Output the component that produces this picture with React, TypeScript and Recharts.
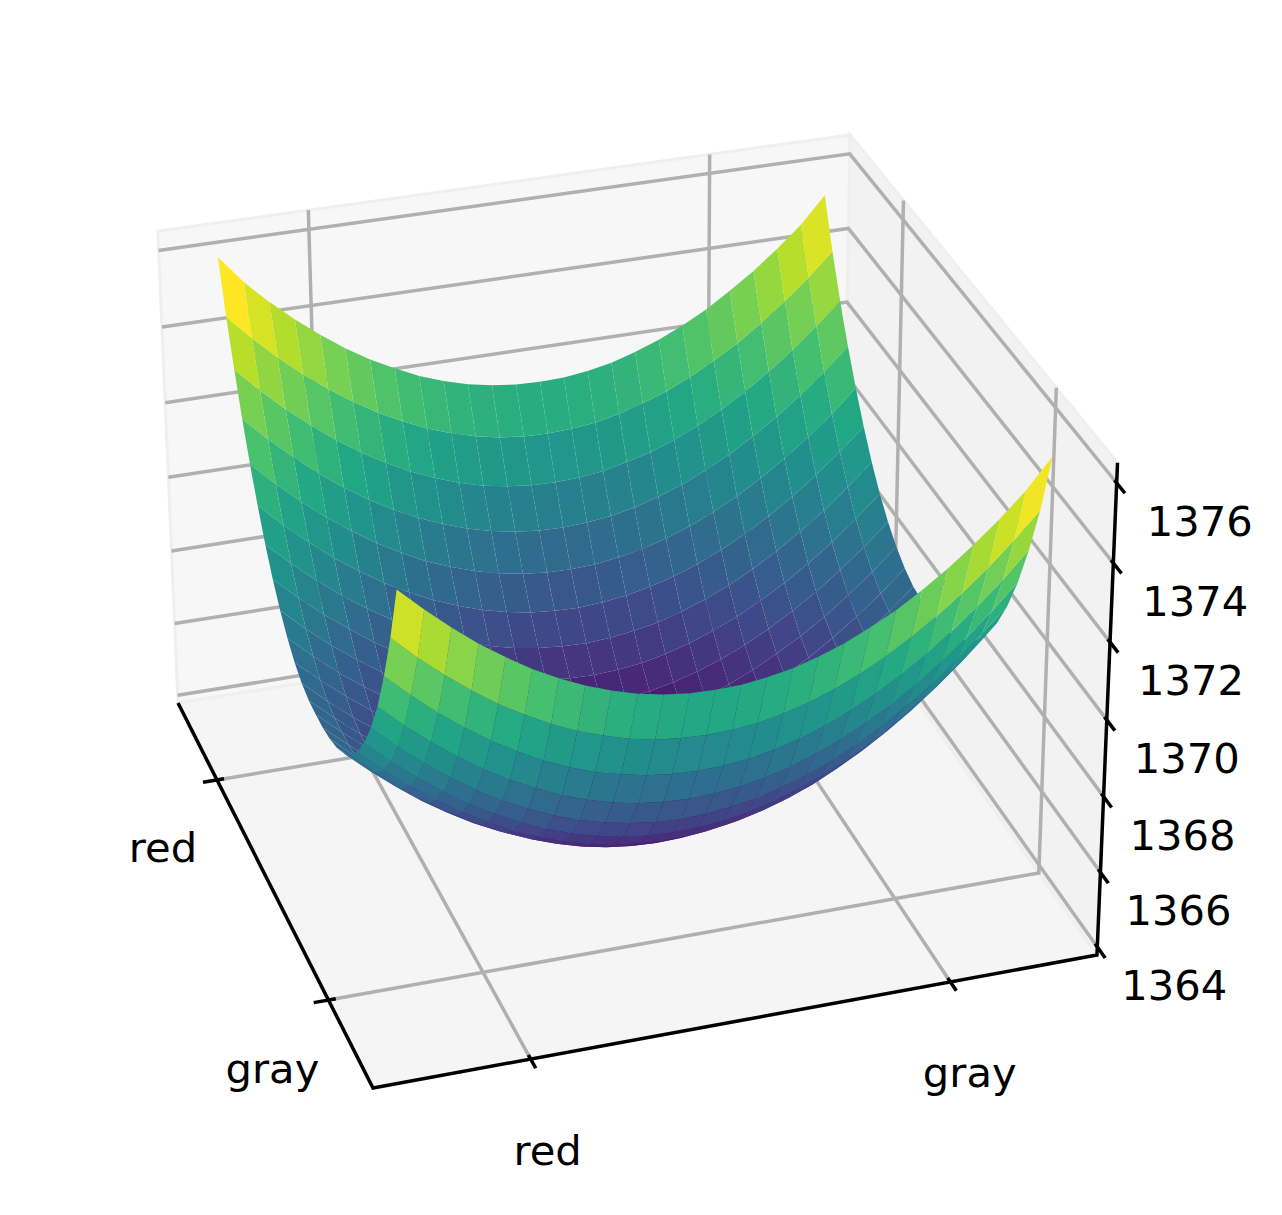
import { ScatterChart, Scatter, XAxis, YAxis } from 'recharts';

const WIDTH = 1282;
const HEIGHT = 1215;

const zTicks = [1364, 1366, 1368, 1370, 1372, 1374, 1376];
const frontTicks = ['red', 'gray'];
const sideTicks = ['gray', 'red'];
const frontTickPos = [0.2115, 0.7915];
const sideTickPos = [0.2115, 0.7836];

// surface grid, -1..1 across each floor direction
const gridSteps = [
  -1, -0.92, -0.84, -0.76, -0.68, -0.6, -0.52, -0.44, -0.36, -0.28, -0.2, -0.12, -0.04,
  0.04, 0.12, 0.2, 0.28, 0.36, 0.44, 0.52, 0.6, 0.68, 0.76, 0.84, 0.92, 1,
];

const zBase = 1364;
// height above zBase, one row per side step
const heightRows = [
  [11.07,10.47,9.92,9.41,8.97,8.56,8.22,7.93,7.69,7.50,7.37,7.29,7.27,7.29,7.37,7.49,7.68,7.91,8.21,8.54,8.94,9.39,9.89,10.44,11.05,11.80],
  [9.55,8.94,8.40,7.90,7.45,7.07,6.72,6.43,6.20,6.01,5.87,5.80,5.77,5.79,5.86,5.99,6.17,6.40,6.69,7.02,7.41,7.85,8.34,8.88,9.48,10.13],
  [8.25,7.66,7.11,6.62,6.17,5.78,5.44,5.15,4.91,4.74,4.60,4.52,4.49,4.51,4.58,4.70,4.88,5.11,5.39,5.72,6.10,6.53,7.02,7.55,8.14,8.79],
  [7.15,6.56,6.02,5.53,5.09,4.70,4.37,4.07,3.84,3.65,3.52,3.44,3.41,3.43,3.50,3.62,3.79,4.02,4.29,4.61,4.98,5.41,5.89,6.42,7.00,7.63],
  [6.26,5.66,5.13,4.64,4.20,3.81,3.48,3.19,2.95,2.77,2.64,2.55,2.52,2.54,2.61,2.72,2.89,3.11,3.37,3.70,4.07,4.50,4.96,5.49,6.06,6.68],
  [5.53,4.95,4.41,3.92,3.48,3.10,2.76,2.48,2.24,2.06,1.92,1.84,1.80,1.82,1.88,2.00,2.16,2.38,2.64,2.96,3.32,3.74,4.20,4.73,5.29,5.91],
  [4.96,4.37,3.83,3.36,2.92,2.53,2.19,1.91,1.67,1.48,1.36,1.27,1.23,1.25,1.31,1.42,1.58,1.79,2.05,2.37,2.73,3.14,3.60,4.11,4.67,5.28],
  [4.52,3.94,3.40,2.92,2.49,2.11,1.77,1.49,1.25,1.06,.92,.84,.80,.82,.88,.98,1.14,1.35,1.61,1.91,2.27,2.67,3.14,3.64,4.20,4.80],
  [4.22,3.64,3.11,2.62,2.19,1.80,1.47,1.18,.95,.76,.62,.54,.50,.50,.56,.66,.82,1.03,1.28,1.59,1.94,2.35,2.80,3.29,3.84,4.44],
  [4.02,3.44,2.91,2.42,1.99,1.61,1.27,.98,.75,.56,.41,.33,.29,.29,.35,.45,.60,.81,1.06,1.37,1.71,2.11,2.56,3.05,3.60,4.20],
  [3.91,3.32,2.80,2.31,1.88,1.49,1.16,.87,.63,.44,.30,.20,.17,.17,.22,.32,.48,.67,.93,1.22,1.57,1.96,2.41,2.90,3.44,4.03],
  [3.86,3.29,2.75,2.26,1.83,1.45,1.11,.82,.58,.39,.24,.15,.11,.11,.15,.26,.41,.60,.86,1.15,1.49,1.89,2.32,2.81,3.35,3.94],
  [3.87,3.29,2.75,2.26,1.83,1.44,1.10,.81,.57,.38,.23,.13,.09,.09,.13,.23,.38,.57,.83,1.12,1.46,1.85,2.28,2.77,3.31,3.89],
  [3.90,3.32,2.78,2.29,1.86,1.47,1.13,.84,.58,.39,.24,.14,.10,.10,.14,.24,.39,.58,.82,1.11,1.45,1.84,2.27,2.76,3.30,3.88],
  [4.02,3.43,2.89,2.40,1.97,1.57,1.23,.94,.68,.49,.34,.23,.19,.19,.23,.32,.47,.66,.90,1.19,1.53,1.91,2.34,2.83,3.37,3.94],
  [4.24,3.65,3.11,2.62,2.17,1.78,1.43,1.14,.88,.69,.53,.43,.38,.38,.41,.51,.65,.84,1.08,1.37,1.70,2.09,2.52,3.01,3.53,4.12],
  [4.56,3.96,3.41,2.92,2.47,2.07,1.73,1.42,1.17,.96,.81,.71,.65,.65,.69,.77,.92,1.11,1.34,1.63,1.97,2.35,2.78,3.27,3.80,4.38],
  [4.96,4.36,3.81,3.32,2.87,2.46,2.11,1.80,1.55,1.34,1.18,1.08,1.02,1.02,1.06,1.14,1.28,1.47,1.70,1.99,2.32,2.71,3.14,3.63,4.16,4.74],
  [5.47,4.87,4.31,3.81,3.34,2.94,2.58,2.28,2.02,1.81,1.65,1.55,1.49,1.47,1.51,1.59,1.73,1.92,2.16,2.44,2.78,3.16,3.59,4.07,4.61,5.19],
  [6.07,5.46,4.90,4.39,3.93,3.52,3.16,2.84,2.58,2.37,2.21,2.10,2.04,2.02,2.06,2.15,2.27,2.46,2.70,2.98,3.32,3.71,4.15,4.62,5.16,5.75],
  [6.78,6.16,5.60,5.07,4.61,4.19,3.83,3.51,3.25,3.03,2.87,2.75,2.69,2.67,2.71,2.79,2.93,3.11,3.35,3.63,3.97,4.35,4.79,5.28,5.82,6.40],
  [7.56,6.94,6.37,5.84,5.38,4.95,4.58,4.25,3.99,3.77,3.60,3.49,3.42,3.40,3.43,3.52,3.65,3.83,4.07,4.36,4.69,5.08,5.52,6.01,6.54,7.14],
  [8.45,7.82,7.24,6.71,6.23,5.80,5.43,5.11,4.84,4.61,4.44,4.32,4.25,4.23,4.26,4.34,4.47,4.66,4.89,5.19,5.52,5.91,6.35,6.84,7.38,7.97],
  [9.45,8.80,8.21,7.68,7.19,6.76,6.38,6.05,5.77,5.54,5.36,5.24,5.17,5.15,5.18,5.26,5.40,5.57,5.81,6.10,6.44,6.83,7.28,7.77,8.32,8.91],
  [10.53,9.88,9.28,8.74,8.25,7.81,7.42,7.09,6.80,6.57,6.39,6.26,6.19,6.17,6.20,6.27,6.41,6.60,6.83,7.12,7.47,7.85,8.30,8.80,9.34,9.95],
  [11.80,11.05,10.44,9.89,9.39,8.94,8.54,8.21,7.91,7.68,7.49,7.37,7.29,7.27,7.29,7.37,7.50,7.69,7.93,8.22,8.56,8.97,9.41,9.92,10.47,11.18],
];

const viridis = ['#440154', '#482475', '#414487', '#355f8d', '#2a788e', '#21918c', '#22a884', '#44bf70', '#7ad151', '#bddf26', '#fde725'];

function viridisAt(t: number): string {
  const p = Math.min(Math.max(t, 0), 1) * (viridis.length - 1);
  const i = Math.min(Math.floor(p), viridis.length - 2);
  const hex = (s: string, k: number) => parseInt(s.slice(k, k + 2), 16);
  const mix = (k: number) => Math.round(hex(viridis[i], k) + (hex(viridis[i + 1], k) - hex(viridis[i], k)) * (p - i));
  return `rgb(${mix(1)},${mix(3)},${mix(5)})`;
}

type P3 = [number, number, number];

// camera: box coords (0..1 each) to chart coords, homogeneous
function project([a, b, w]: P3) {
  const d = 1 + 0.03796 * a + 0.10494 * b - 0.0455 * w;
  return {
    x: (373 + 765.6 * a - 176.3 * b - 29.5 * w) / d,
    y: (1088 - 96.75 * a - 311.2 * b - 532 * w) / d,
    d,
  };
}

const zToBox = (z: number) => 0.017 + 0.07863 * (z - 1364);
const frontToBox = (s: number) => 0.5165 + 0.4395 * s;
const sideToBox = (s: number) => 0.5445 + 0.4345 * s;

interface Mark {
  x: number;
  y: number;
  d: number;
  verts: number[][];
  fill: string;
  stroke: string;
  sw: number;
}

function makeMark(points: P3[], fill: string, stroke: string, sw: number): Mark {
  const pr = points.map(project);
  return {
    x: pr[0].x,
    y: pr[0].y,
    d: pr.reduce((s, p) => s + p.d, 0) / pr.length,
    verts: pr.map((p) => [p.x - pr[0].x, p.y - pr[0].y]),
    fill,
    stroke,
    sw,
  };
}

function MarkShape(props: any) {
  const { cx, cy, payload } = props;
  const m = payload as Mark;
  const d = m.verts.map((v, i) => `${i ? 'L' : 'M'}${cx + v[0]} ${cy + v[1]}`).join('') + (m.fill === 'none' ? '' : 'Z');
  return <path d={d} fill={m.fill} stroke={m.stroke} strokeWidth={m.sw} strokeLinecap="butt" strokeLinejoin="miter" />;
}

function LabelShape(props: any) {
  const { cx, cy, payload } = props;
  return (
    <text
      x={cx + payload.dx}
      y={cy + payload.dy}
      textAnchor="middle"
      dominantBaseline="central"
      fontFamily="DejaVu Sans"
      fontSize={41.67}
      fill="#000"
    >
      {payload.text}
    </text>
  );
}

const PANE_EDGE = '#efefef';
const paneMarks = [
  makeMark([[0, 0, 0], [1, 0, 0], [1, 1, 0], [0, 1, 0]], '#f5f5f5', PANE_EDGE, 3),
  makeMark([[1, 0, 0], [1, 1, 0], [1, 1, 1], [1, 0, 1]], '#f2f2f2', PANE_EDGE, 3),
  makeMark([[0, 1, 0], [1, 1, 0], [1, 1, 1], [0, 1, 1]], '#f7f7f7', PANE_EDGE, 3),
];

const GRID = '#b0b0b0';
const gridMarks = [
  ...zTicks.map((z) => makeMark([[0, 1, zToBox(z)], [1, 1, zToBox(z)], [1, 0, zToBox(z)]], 'none', GRID, 3.5)),
  ...frontTickPos.map((a) => makeMark([[a, 0, 0], [a, 1, 0], [a, 1, 1]], 'none', GRID, 3.5)),
  ...sideTickPos.map((b) => makeMark([[0, b, 0], [1, b, 0], [1, b, 1]], 'none', GRID, 3.5)),
];

const cellMeans: { corners: P3[]; mean: number }[] = [];
for (let j = 0; j < gridSteps.length - 1; j++) {
  for (let i = 0; i < gridSteps.length - 1; i++) {
    const at = (n: number, m: number): P3 => [
      frontToBox(gridSteps[n]),
      sideToBox(gridSteps[m]),
      zToBox(zBase + heightRows[m][n]),
    ];
    const mean = (heightRows[j][i] + heightRows[j][i + 1] + heightRows[j + 1][i] + heightRows[j + 1][i + 1]) / 4;
    cellMeans.push({ corners: [at(i, j), at(i + 1, j), at(i + 1, j + 1), at(i, j + 1)], mean });
  }
}
const minMean = Math.min(...cellMeans.map((c) => c.mean));
const maxMean = Math.max(...cellMeans.map((c) => c.mean));
// far cells first, so the near wall of the bowl covers the inside
const cellMarks = cellMeans
  .map((c) => makeMark(c.corners, viridisAt((c.mean - minMean) / (maxMean - minMean)), 'none', 0))
  .sort((p, q) => q.d - p.d);

const axisMarks = [
  makeMark([[0, 1, 0], [0, 0, 0], [1, 0, 0], [1, 0, 1]], 'none', '#000', 3.5),
  ...zTicks.map((z) => makeMark([[1, 0.008, zToBox(z)], [1, -0.028, zToBox(z)]], 'none', '#000', 3.5)),
  ...frontTickPos.map((a) => makeMark([[a, 0.01, 0], [a, -0.022, 0]], 'none', '#000', 3.5)),
  ...sideTickPos.map((b) => makeMark([[0.01, b, 0], [-0.02, b, 0]], 'none', '#000', 3.5)),
];

const labelData = [
  ...zTicks.map((z) => ({ ...project([1, 0, zToBox(z)]), text: String(z), dx: 77 + 0.5 * (z - 1364), dy: 38.5 })),
  ...frontTickPos.map((a, i) => ({ ...project([a, 0, 0]), text: frontTicks[i], dx: 17 + (a - 0.2115) * 4, dy: 91 })),
  ...sideTickPos.map((b, i) => ({ ...project([0, b, 0]), text: sideTicks[i], dx: -56 + (b - 0.2115) * 3.5, dy: 69 - (b - 0.2115) * 3.5 })),
];

export default function App() {
  return (
    <div style={{ position: 'absolute', left: 0, top: 0, width: WIDTH, height: HEIGHT, background: '#fff' }}>
      <ScatterChart width={WIDTH} height={HEIGHT} margin={{ top: 0, right: 0, bottom: 0, left: 0 }}>
        <XAxis type="number" dataKey="x" domain={[0, WIDTH]} hide allowDataOverflow />
        <YAxis type="number" dataKey="y" domain={[0, HEIGHT]} reversed hide allowDataOverflow />
        <Scatter data={paneMarks} shape={MarkShape} isAnimationActive={false} />
        <Scatter data={gridMarks} shape={MarkShape} isAnimationActive={false} />
        <Scatter data={cellMarks} shape={MarkShape} isAnimationActive={false} />
        <Scatter data={axisMarks} shape={MarkShape} isAnimationActive={false} />
        <Scatter data={labelData} shape={LabelShape} isAnimationActive={false} />
      </ScatterChart>
    </div>
  );
}
